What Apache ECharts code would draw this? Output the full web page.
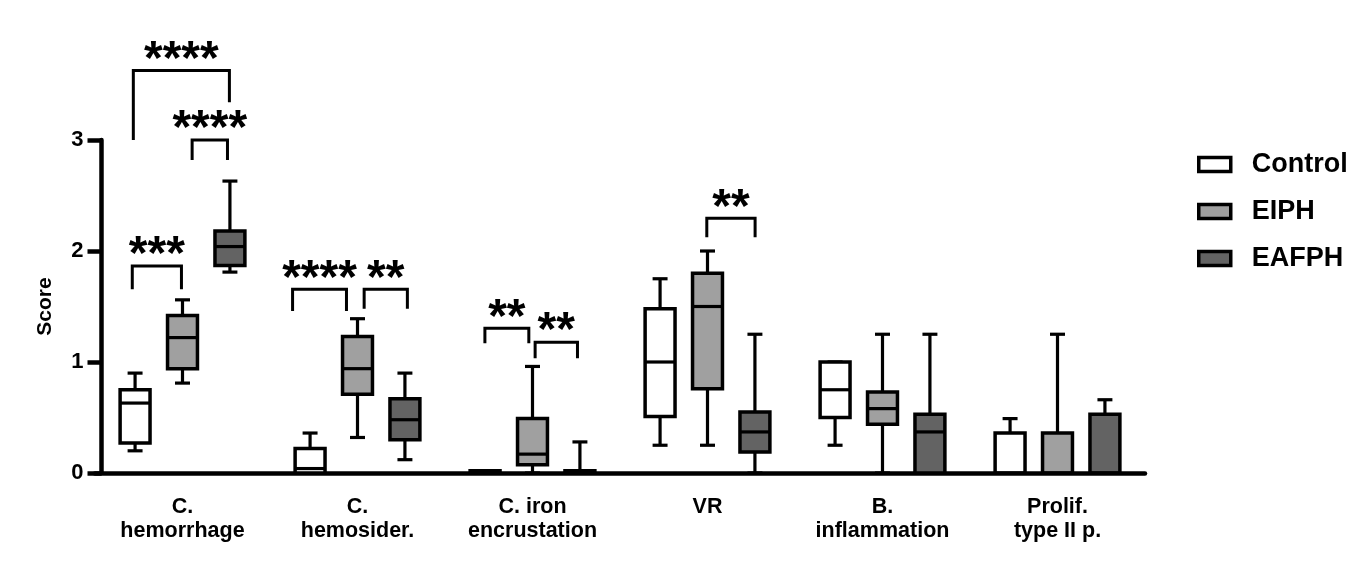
<!DOCTYPE html>
<html><head><meta charset="utf-8">
<script src="https://cdn.jsdelivr.net/npm/echarts@6/dist/echarts.min.js"></script>
<style>html,body{margin:0;padding:0;background:#fff}#c{width:1359px;height:561px}</style>
</head><body><div id="c"></div>
<script>
const categories = ['C.\nhemorrhage', 'C.\nhemosider.', 'C. iron\nencrustation', 'VR', 'B.\ninflammation', 'Prolif.\ntype II p.'];
const groupNames = ['Control', 'EIPH', 'EAFPH'];
const yTicks = [0, 1, 2, 3];
// each row: [min, Q1, median, Q3, max]
const controlBoxes = [
  [0.2, 0.27, 0.63, 0.75, 0.9],
  [0, 0, 0.04, 0.22, 0.36],
  [0, 0, 0, 0.02, 0.02],
  [0.25, 0.51, 1.0, 1.48, 1.75],
  [0.25, 0.5, 0.75, 1.0, 1.0],
  [0, 0, 0, 0.36, 0.49]
];
const eiphBoxes = [
  [0.81, 0.94, 1.22, 1.42, 1.56],
  [0.32, 0.71, 0.94, 1.23, 1.39],
  [0, 0.075, 0.17, 0.49, 0.96],
  [0.25, 0.76, 1.5, 1.8, 2.0],
  [0, 0.44, 0.58, 0.73, 1.25],
  [0, 0, 0, 0.36, 1.25]
];
const eafphBoxes = [
  [1.81, 1.87, 2.04, 2.18, 2.63],
  [0.12, 0.3, 0.48, 0.67, 0.9],
  [0, 0, 0, 0.02, 0.28],
  [0, 0.19, 0.37, 0.55, 1.25],
  [0, 0, 0.37, 0.53, 1.25],
  [0, 0, 0, 0.53, 0.66]
];
// significance brackets: category, left/right end (in category units from centre), top level, left/right leg bottom, label
const bracketCats = [0, 0, 0, 1, 1, 2, 2, 3];
const bracketLeft = [-0.281, -0.287, 0.055, -0.371, 0.038, -0.272, 0.015, -0.004];
const bracketRight = [0.268, -0.006, 0.257, -0.063, 0.285, -0.021, 0.257, 0.272];
const bracketTop = [3.626, 1.865, 3.0, 1.655, 1.655, 1.303, 1.178, 2.294];
const bracketLegL = [3.0, 1.655, 2.82, 1.46, 1.48, 1.168, 1.033, 2.123];
const bracketLegR = [3.34, 1.655, 2.82, 1.46, 1.48, 1.168, 1.033, 2.123];
const bracketLabels = ['****', '***', '****', '****', '**', '**', '**', '**'];

const FONT = '"Liberation Sans", Arial, sans-serif';
const groupColors = ['#ffffff', '#a0a0a0', '#636363'];
const groupOffsets = [-0.271, 0, 0.271];
const boxFrac = 0.171;

function boxData(rows) {
  return rows.map((r, i) => [i, r[0], r[1], r[2], r[3], r[4]]);
}

function renderBox(params, api) {
  const cat = api.value(0);
  const band = api.size([1, 0])[0];
  const cx = api.coord([cat, 0])[0] + groupOffsets[params.seriesIndex] * band;
  const half = boxFrac * band / 2;
  const y = i => api.coord([cat, api.value(i)])[1];
  const yMin = y(1), yQ1 = y(2), yMed = y(3), yQ3 = y(4), yMax = y(5);
  const ls = { stroke: '#000', lineWidth: 3.2 };
  return {
    type: 'group',
    children: [
      { type: 'line', shape: { x1: cx, y1: yMax, x2: cx, y2: yMin }, style: ls },
      { type: 'line', shape: { x1: cx - half / 2, y1: yMax, x2: cx + half / 2, y2: yMax }, style: ls },
      { type: 'line', shape: { x1: cx - half / 2, y1: yMin, x2: cx + half / 2, y2: yMin }, style: ls },
      { type: 'rect', shape: { x: cx - half, y: yQ3, width: half * 2, height: yQ1 - yQ3 },
        style: { fill: groupColors[params.seriesIndex], stroke: '#000', lineWidth: 3.5 } },
      { type: 'line', shape: { x1: cx - half, y1: yMed, x2: cx + half, y2: yMed }, style: ls }
    ]
  };
}

function renderBracket(params, api) {
  const cat = api.value(0);
  const band = api.size([1, 0])[0];
  const c = api.coord([cat, 0])[0];
  const x1 = c + api.value(1) * band, x2 = c + api.value(2) * band;
  const yTop = api.coord([cat, api.value(3)])[1];
  const y1 = api.coord([cat, api.value(4)])[1];
  const y2 = api.coord([cat, api.value(5)])[1];
  return {
    type: 'group',
    children: [
      { type: 'polyline', shape: { points: [[x1, y1], [x1, yTop], [x2, yTop], [x2, y2]] },
        style: { stroke: '#000', lineWidth: 3, fill: null, lineJoin: 'miter', lineCap: 'butt' } },
      { type: 'text', x: (x1 + x2) / 2, y: yTop - 10,
        style: { text: bracketLabels[params.dataIndex], font: 'bold 48px ' + FONT, fill: '#000',
                 align: 'center', verticalAlign: 'middle' } }
    ]
  };
}

const allBoxes = [controlBoxes, eiphBoxes, eafphBoxes];
const series = allBoxes.map((rows, s) => ({
  type: 'custom',
  name: groupNames[s],
  renderItem: renderBox,
  itemStyle: { color: groupColors[s], borderColor: '#000', borderWidth: 3.5 },
  encode: { x: 0, y: [1, 2, 3, 4, 5] },
  data: boxData(rows),
  clip: false,
  z: 3
}));
series.push({
  type: 'custom',
  renderItem: renderBracket,
  encode: { x: 0, y: [3, 4, 5] },
  data: bracketCats.map((c, i) => [c, bracketLeft[i], bracketRight[i], bracketTop[i], bracketLegL[i], bracketLegR[i]]),
  clip: false,
  silent: true,
  z: 4
});

const chart = echarts.init(document.getElementById('c'), null, { renderer: 'canvas' });
chart.setOption({
  animation: false,
  backgroundColor: '#fff',
  grid: { left: 95, right: 214, top: 140, bottom: 88, containLabel: false },
  legend: {
    orient: 'vertical', left: 1192, top: 146, icon: 'rect',
    itemWidth: 32, itemHeight: 14, itemGap: 20,
    textStyle: { fontFamily: FONT, fontWeight: 'bold', fontSize: 27, color: '#000', padding: [0, 0, 0, 16] },
    data: groupNames.map((n, i) => ({ name: n, itemStyle: { color: groupColors[i], borderColor: '#000', borderWidth: 3.5 } }))
  },
  xAxis: {
    type: 'category', data: categories,
    axisLine: { lineStyle: { color: '#000', width: 4.5 } },
    axisTick: { alignWithLabel: true, length: 14, lineStyle: { color: '#000', width: 4.5 } },
    axisLabel: { fontFamily: FONT, fontWeight: 'bold', fontSize: 21.5, lineHeight: 24, color: '#000', margin: 22, interval: 0 }
  },
  yAxis: {
    type: 'value', min: yTicks[0], max: yTicks[yTicks.length - 1], interval: 1, offset: -6.5,
    name: 'Score', nameLocation: 'middle', nameGap: 46,
    nameTextStyle: { fontFamily: FONT, fontWeight: 'bold', fontSize: 21, color: '#000' },
    axisLine: { show: true, lineStyle: { color: '#000', width: 4.5 } },
    axisTick: { show: true, length: 14, lineStyle: { color: '#000', width: 4.5 } },
    splitLine: { show: false },
    axisLabel: { fontFamily: FONT, fontWeight: 'bold', fontSize: 22, color: '#000', margin: 18 }
  },
  series: series
});
</script></body></html>
